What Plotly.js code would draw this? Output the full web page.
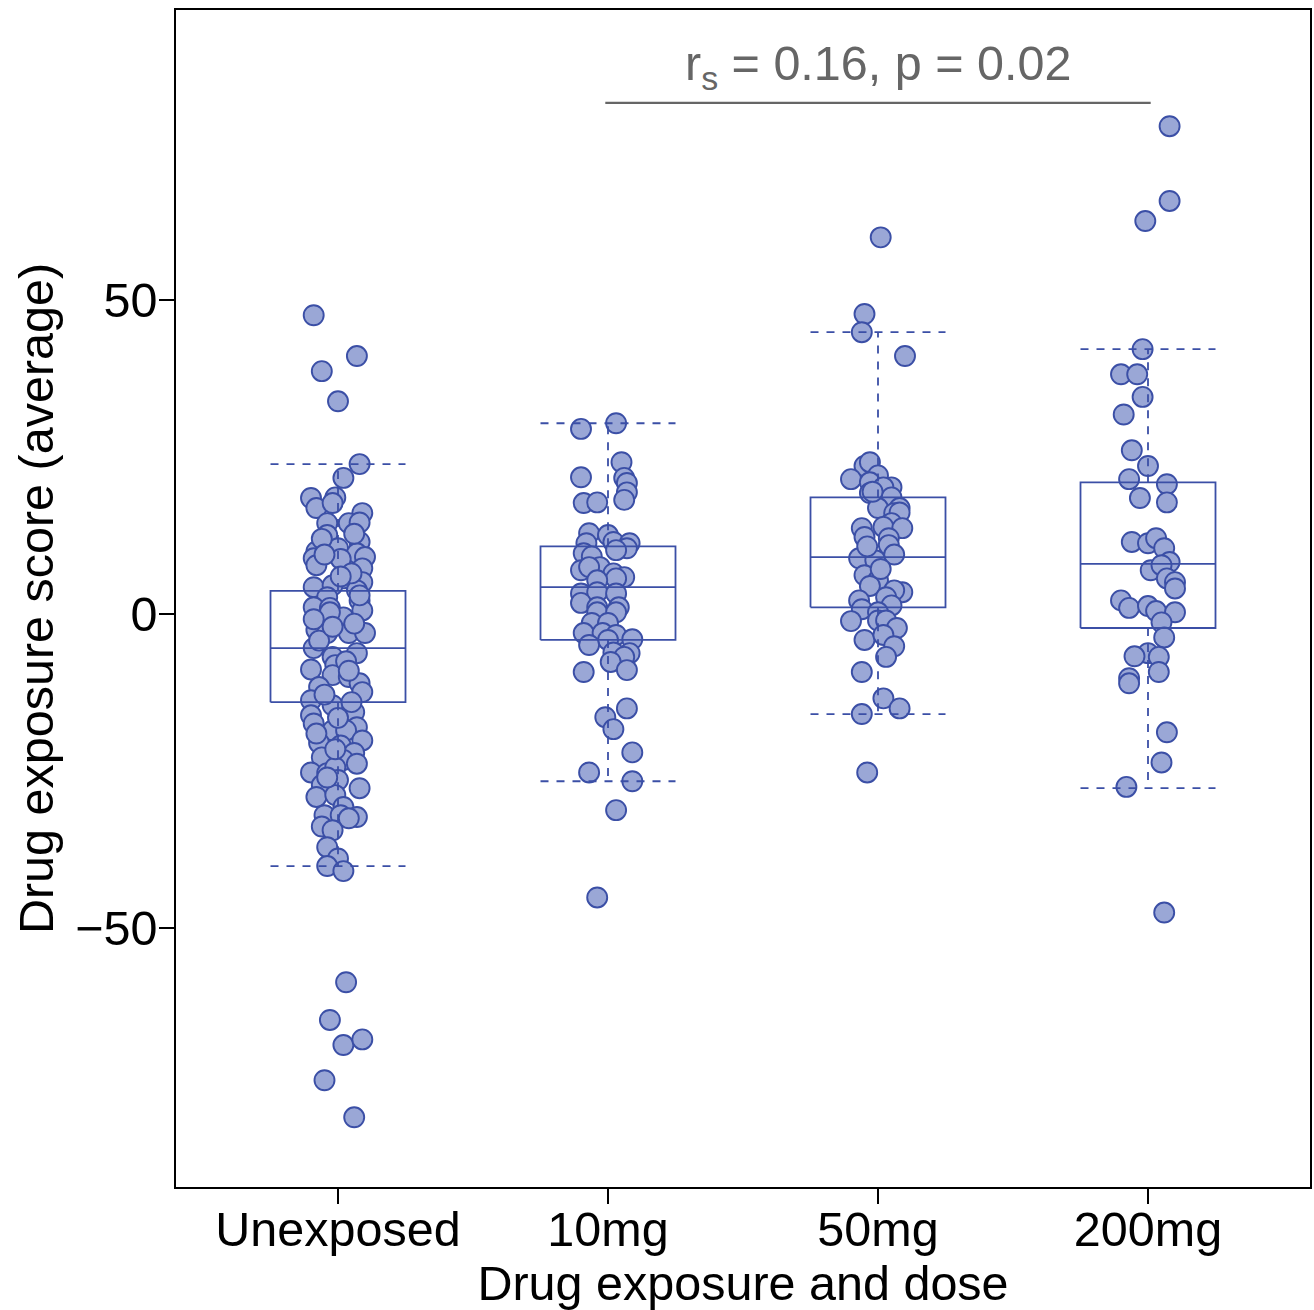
<!DOCTYPE html>
<html>
<head>
<meta charset="utf-8">
<script src="https://cdn.plot.ly/plotly-3.0.1.min.js"></script>
<style>html,body{margin:0;padding:0;background:#fff;}#chart{width:1314px;height:1310px;}</style>
</head>
<body>
<div id="chart"></div>
<script>
// ---- Data ----
const categories = ["Unexposed", "10mg", "50mg", "200mg"];

const unexposedScore = [47.6, 41.1, 38.7, 33.9, 23.9, 21.7, 18.5, 18.6, 16.9, 17.7, 16.1, 14.5, 14.5, 14.6, 12.6,
  10.0, 8.9, 10.5, 11.5, 9.7, 9.1, 8.8, 7.8, 7.3, 5.7, 5.1, 4.3, 4.6, 3.8, 2.7, 2.2, 1.1, 1.0, -0.5, 0.6,
  -2.5, -3.0, -3.0, -3.0, -5.4, -6.2, -6.8, -8.8, -8.1, -9.7, -10.0, -11.0, -11.6, -12.4, -13.7, -14.5,
  -15.6, -16.1, -17.4, -18.5, -18.0, -18.5, -20.1, -20.5, -20.9, -22.1, -22.8, -23.2, -25.2, -25.3, -24.4,
  -27.2, -26.4, -27.7, -29.1, -28.8, -32.0, -30.7, -32.0, -32.3, -32.5, -33.8, -34.4, -37.1, -38.9, -40.1,
  -40.9, -58.6, -64.6, -68.6, -67.7, -74.2, -80.1,
  12.0, 6.5, 0.3, -1.5, -4.2, -7.5, -12.8, -14.0, -16.5, -19.0, -23.8, -2.0, 3.0, -0.8, 6.0, 9.5, -9.0,
  -26.0, 12.8, -21.5];
const unexposedJitter = [-0.09, 0.07, -0.06, 0.00, 0.08, 0.02, -0.10, -0.01, -0.08, -0.02, 0.09, -0.04, 0.04, 0.08, -0.04,
  -0.08, -0.09, 0.00, 0.08, 0.07, 0.10, 0.01, -0.08, 0.09, 0.02, 0.09, -0.09, -0.02, 0.07, -0.04, 0.08, -0.09, -0.03, 0.02, 0.09,
  -0.08, -0.04, 0.04, 0.10, -0.09, 0.07, -0.02, -0.10, -0.01, -0.02, 0.04, 0.08, -0.07, 0.09, -0.10, -0.02,
  0.06, -0.10, -0.09, -0.02, 0.07, 0.03, 0.09, -0.07, 0.01, 0.06, -0.06, 0.02, -0.10, -0.04, -0.01,
  -0.06, 0.00, 0.08, -0.08, -0.01, -0.05, 0.02, 0.01, 0.07, 0.04, -0.06, -0.02, -0.04, 0.00, -0.04,
  0.02, 0.03, -0.03, 0.02, 0.09, -0.05, 0.06,
  -0.06, 0.05, -0.03, 0.06, -0.07, 0.03, -0.05, 0.05, 0.00, -0.08, 0.07, -0.02, 0.08, -0.09, 0.01, -0.05, 0.04,
  -0.04, 0.06, -0.01];

const dose10Score = [29.5, 30.4, 24.2, 21.8, 21.7, 20.9, 19.4, 18.2, 17.7, 17.8, 12.9, 12.6, 11.3, 11.5, 11.3,
  10.5, 10.2, 9.7, 9.2, 7.0, 7.5, 7.5, 6.5, 5.9, 5.7, 5.4, 3.3, 3.5, 3.3, 1.8, 1.1, 1.1, 0.3, 0.3, -1.4, -1.4,
  -3.0, -3.0, -3.3, -4.1, -4.0, -4.9, -6.1, -6.2, -6.8, -7.6, -8.9, -9.2, -15.0, -16.4, -18.3, -22.0, -25.2,
  -26.6, -31.2, -45.1];
const dose10Jitter = [-0.10, 0.03, 0.05, -0.10, 0.06, 0.07, 0.07, 0.06, -0.09, -0.04, -0.07, 0.00, -0.08, 0.02, 0.08,
  0.07, 0.03, -0.09, -0.06, -0.10, -0.03, -0.07, 0.02, 0.06, 0.03, -0.04, -0.10, -0.04, 0.03, -0.10, -0.04, 0.04, -0.04, 0.03, -0.06, 0.00,
  -0.09, -0.02, 0.03, 0.00, 0.09, -0.07, 0.02, 0.08, 0.06, 0.01, 0.07, -0.09, 0.07, -0.01, 0.02, 0.09, -0.07,
  0.09, 0.03, -0.04];

const dose50Score = [60.0, 47.8, 44.9, 41.1, 23.6, 24.2, 21.5, 22.1, 21.0, 20.2, 20.2, 19.3, 18.6, 16.9, 16.9,
  16.1, 16.2, 14.5, 13.9, 13.7, 13.7, 12.3, 12.1, 11.0, 8.9, 8.6, 6.2, 5.4, 4.5, 3.5, 3.8, 2.2, 2.7, 0.8, 1.4,
  0.3, -1.1, -1.0, -1.0, -2.2, -4.1, -3.3, -5.1, -6.8, -9.2, -13.4, -15.0, -15.9, -25.2,
  19.5, 9.5, 10.8, 7.2];
const dose50Jitter = [0.01, -0.05, -0.06, 0.10, -0.05, -0.03, -0.10, 0.00, -0.03, 0.05, 0.02, -0.03, 0.05, 0.08, 0.00,
  0.06, 0.08, 0.05, 0.02, -0.06, 0.09, -0.05, 0.04, 0.04, -0.07, -0.01, -0.05, 0.00, -0.03, 0.09, 0.06, -0.07, 0.03, -0.06, 0.05,
  0.00, -0.10, 0.00, 0.03, 0.07, -0.05, 0.02, 0.06, 0.03, -0.06, 0.02, 0.08, -0.06, -0.04,
  -0.02, 0.06, -0.04, 0.01];

const dose200Score = [77.7, 65.8, 62.6, 42.2, 38.2, 38.2, 34.6, 31.8, 26.1, 23.6, 21.5, 20.7, 18.5, 17.8, 11.5,
  11.3, 12.1, 10.5, 8.3, 7.0, 7.8, 5.7, 5.1, 4.1, 2.2, 1.0, 1.3, 0.5, 0.3, -1.3, -3.7, -6.2, -6.7, -6.8, -9.2,
  -10.2, -11.0, -18.8, -23.6, -27.5, -47.5];
const dose200Jitter = [0.08, 0.08, -0.01, -0.02, -0.10, -0.04, -0.02, -0.09, -0.06, 0.00, -0.07, 0.07, -0.03, 0.07, -0.06,
  0.00, 0.03, 0.06, 0.08, 0.01, 0.05, 0.07, 0.10, 0.10, -0.10, -0.07, 0.00, 0.03, 0.10, 0.05, 0.06, 0.00, -0.05, 0.04, 0.04,
  -0.07, -0.07, 0.07, 0.05, -0.08, 0.06];

// Box statistics per category
const boxQ1 = [-14.0, -4.1, 1.1, -2.2];
const boxMedian = [-5.4, 4.3, 9.1, 8.0];
const boxQ3 = [3.7, 10.8, 18.6, 21.0];
const whiskerLow = [-40.1, -26.6, -15.9, -27.7];
const whiskerHigh = [23.9, 30.4, 44.9, 42.2];

// Correlation annotation
const corrText = "r<sub>s</sub> = 0.16, p = 0.02";
const corrFrom = 1.99, corrTo = 4.01, corrLevel = 81.4;

// ---- Styles ----
const edge = "#3B4FA6";
const fill = "#9AA7D6";
const font = "Liberation Sans, Arial, Helvetica, sans-serif";
const fs = 48.5;
const halfBox = 0.25;

const groupScores = [unexposedScore, dose10Score, dose50Score, dose200Score];
const groupJitter = [unexposedJitter, dose10Jitter, dose50Jitter, dose200Jitter];

const traces = [];
groupScores.forEach((ys, g) => {
  traces.push({
    type: "scatter", mode: "markers", name: categories[g], showlegend: false, hoverinfo: "y",
    x: groupJitter[g].map(j => g + 1 + j), y: ys,
    marker: {size: 20, color: fill, line: {color: edge, width: 1.9}}
  });
});

// Boxes (solid) and whiskers (dashed)
const boxX = [], boxY = [], dashX = [], dashY = [];
categories.forEach((c, g) => {
  const cx = g + 1, l = cx - halfBox, r = cx + halfBox;
  boxX.push(l, r, r, l, l, null, l, r, null);
  boxY.push(boxQ1[g], boxQ1[g], boxQ3[g], boxQ3[g], boxQ1[g], null, boxMedian[g], boxMedian[g], null);
  dashX.push(cx, cx, null, cx, cx, null, l, r, null, l, r, null);
  dashY.push(boxQ3[g], whiskerHigh[g], null, boxQ1[g], whiskerLow[g], null,
             whiskerHigh[g], whiskerHigh[g], null, whiskerLow[g], whiskerLow[g], null);
});
traces.push({type: "scatter", mode: "lines", x: dashX, y: dashY, showlegend: false, hoverinfo: "skip",
  line: {color: edge, width: 1.8, dash: "8px,8px"}});
traces.push({type: "scatter", mode: "lines", x: boxX, y: boxY, showlegend: false, hoverinfo: "skip",
  line: {color: edge, width: 1.8}});
traces.push({type: "scatter", mode: "lines", x: [corrFrom, corrTo], y: [corrLevel, corrLevel], showlegend: false,
  hoverinfo: "skip", line: {color: "#666666", width: 2.2}});

const layout = {
  width: 1314, height: 1310,
  margin: {l: 176, r: 4, t: 10, b: 123},
  paper_bgcolor: "#ffffff", plot_bgcolor: "#ffffff",
  font: {family: font, size: fs, color: "#000"},
  showlegend: false,
  xaxis: {
    range: [0.4, 4.6], tickvals: [1, 2, 3, 4], ticktext: categories,
    showgrid: false, zeroline: false, showline: true, mirror: true, linecolor: "#000", linewidth: 1.8,
    ticks: "outside", ticklen: 15, tickwidth: 1.8, tickcolor: "#000", ticklabelstandoff: -16,
    tickfont: {family: font, size: fs, color: "#000"},
    title: {text: "Drug exposure and dose", font: {family: font, size: fs, color: "#000"}, standoff: 0}
  },
  yaxis: {
    range: [-91.2, 96.2], tickvals: [-50, 0, 50],
    showgrid: false, zeroline: false, showline: true, mirror: true, linecolor: "#000", linewidth: 1.8,
    ticks: "outside", ticklen: 15, tickwidth: 1.8, tickcolor: "#000", ticklabelstandoff: -8,
    tickfont: {family: font, size: fs, color: "#000"},
    title: {text: "Drug exposure score (average)", font: {family: font, size: fs, color: "#000"}, standoff: 6}
  },
  annotations: [{
    x: (corrFrom + corrTo) / 2, y: corrLevel, xref: "x", yref: "y", yanchor: "bottom", yshift: 4,
    text: corrText, showarrow: false, font: {family: font, size: fs, color: "#666666"}
  }]
};

Plotly.newPlot("chart", traces, layout, {displayModeBar: false, staticPlot: true});
</script>
</body>
</html>
